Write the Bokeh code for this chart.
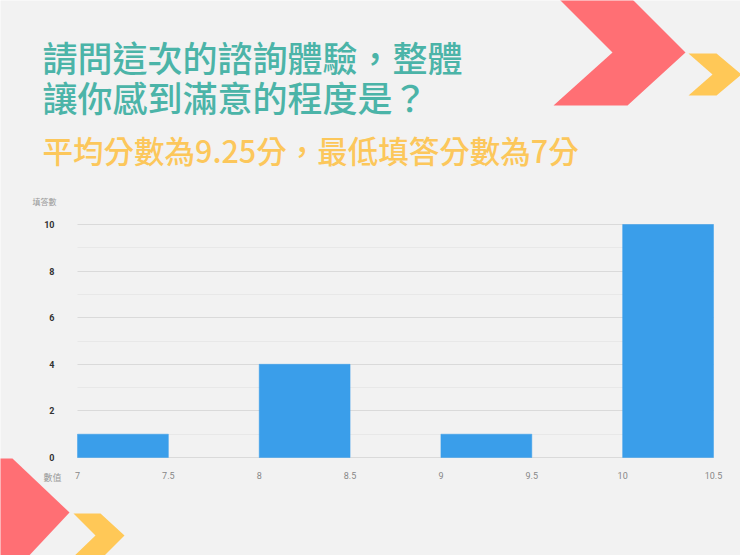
from bokeh.plotting import figure
from bokeh.models import Range1d, FixedTicker, Label, PolyAnnotation, LinearAxis, Grid
from bokeh.embed import file_html
from bokeh.resources import INLINE

# ---- data ----
bin_left = [7, 8, 9, 10]
bin_right = [7.5, 8.5, 9.5, 10.5]
counts = [1, 4, 1, 10]
x_ticks = [7, 7.5, 8, 8.5, 9, 9.5, 10, 10.5]
x_tick_labels = ["7", "7.5", "8", "8.5", "9", "9.5", "10", "10.5"]
y_ticks = [0, 2, 4, 6, 8, 10]
y_minor_ticks = [1, 3, 5, 7, 9]
title_lines = ["請問這次的諮詢體驗，整體", "讓你感到滿意的程度是？"]
subtitle = "平均分數為9.25分，最低填答分數為7分"
y_label = "填答數"
x_label = "數值"

# ---- layout (pixels of the picture) ----
W, H = 740, 555
FL, FR, FT, FB = 77, 713, 224, 457      # chart area edges

X0, X1 = min(bin_left), max(bin_right)
Y0, Y1 = 0, max(counts)
KX = (X1 - X0) / (FR - FL)
KY = (Y1 - Y0) / (FB - FT)


def px_x(X):
    return X0 + (X - FL) * KX


def px_y(Y):
    return Y0 + (FB - Y) * KY


BG = "#f2f2f2"
TEAL = "#4bb4a8"
GOLD = "#fcc75b"
RED = "#ff6f74"
YEL = "#ffc857"
BLUE = "#3a9eea"
CJK = "Noto Sans CJK TC"
CJK_MED = "'Noto Sans CJK TC Medium', 'Noto Sans CJK TC'"

p = figure(width=W, height=H,
           x_range=Range1d(px_x(0), px_x(W)), y_range=Range1d(px_y(H), px_y(0)),
           output_backend="svg", toolbar_location=None,
           x_axis_location=None, y_axis_location=None,
           min_border=0, min_border_left=0, min_border_right=0,
           min_border_top=0, min_border_bottom=0)
p.title.visible = False
for g in p.grid:
    g.visible = False
p.background_fill_color = BG
p.border_fill_color = BG
p.outline_line_color = None

# decorations
shapes = [
    ([555, 628, 685, 627, 553, 612], [-5, -5, 52, 105, 105, 52], RED),
    ([688, 716, 741, 716, 688, 712], [53, 53, 74, 95, 95, 74], YEL),
    ([-40, 12, 69, 24, -40], [458, 458, 512, 560, 560], RED),
    ([73, 100, 124, 99, 69, 95], [513, 513, 535, 560, 560, 535], YEL),
]
for xs, ys, c in shapes:
    p.add_layout(PolyAnnotation(xs=[px_x(v) for v in xs], ys=[px_y(v) for v in ys],
                                fill_color=c, fill_alpha=1.0, line_color=None))

# grid
grid = Grid(dimension=1, ticker=FixedTicker(ticks=y_ticks, minor_ticks=y_minor_ticks),
            cross_bounds=(X0, X1),
            grid_line_color="#dadada", minor_grid_line_color="#e8e8e8")
p.add_layout(grid, "center")

# bars
p.quad(left=bin_left, right=bin_right, bottom=0, top=counts,
       fill_color=BLUE, line_color=BLUE, line_width=0.5)

# axes
xaxis = LinearAxis(ticker=FixedTicker(ticks=x_ticks), fixed_location=Y0,
                   major_label_overrides=dict(zip(x_ticks, x_tick_labels)))
yaxis = LinearAxis(ticker=FixedTicker(ticks=y_ticks, minor_ticks=y_minor_ticks),
                   fixed_location=X0)
for ax in (xaxis, yaxis):
    ax.axis_line_color = None
    ax.major_tick_line_color = None
    ax.minor_tick_line_color = None
    ax.major_tick_out = 0
    ax.major_tick_in = 0
    ax.major_label_text_font = "Roboto"
    ax.major_label_text_font_size = "9px"
xaxis.major_label_text_color = "#888888"
xaxis.major_label_standoff = 14
yaxis.major_label_text_color = "#333333"
yaxis.major_label_text_font_style = "bold"
yaxis.major_label_standoff = 19
p.add_layout(xaxis, "below")
p.add_layout(yaxis, "left")

# titles
for t, yy in zip(title_lines, [55.5, 95.5]):
    p.add_layout(Label(x=px_x(42), y=px_y(yy), text=t, text_font=CJK_MED,
                       text_font_size="35px", text_color=TEAL,
                       text_baseline="middle", text_align="left"))
p.add_layout(Label(x=px_x(42), y=px_y(149.5), text=subtitle, text_font=CJK_MED,
                   text_font_size="30.5px", text_color=GOLD,
                   text_baseline="middle", text_align="left"))

# axis titles
p.add_layout(Label(x=px_x(56), y=px_y(201), text=y_label, text_font=CJK,
                   text_font_size="8px", text_color="#999999",
                   text_baseline="middle", text_align="right"))
p.add_layout(Label(x=px_x(61), y=px_y(477), text=x_label, text_font=CJK,
                   text_font_size="9px", text_color="#999999",
                   text_baseline="middle", text_align="right"))

open("out.html", "w").write(file_html(p, INLINE))
